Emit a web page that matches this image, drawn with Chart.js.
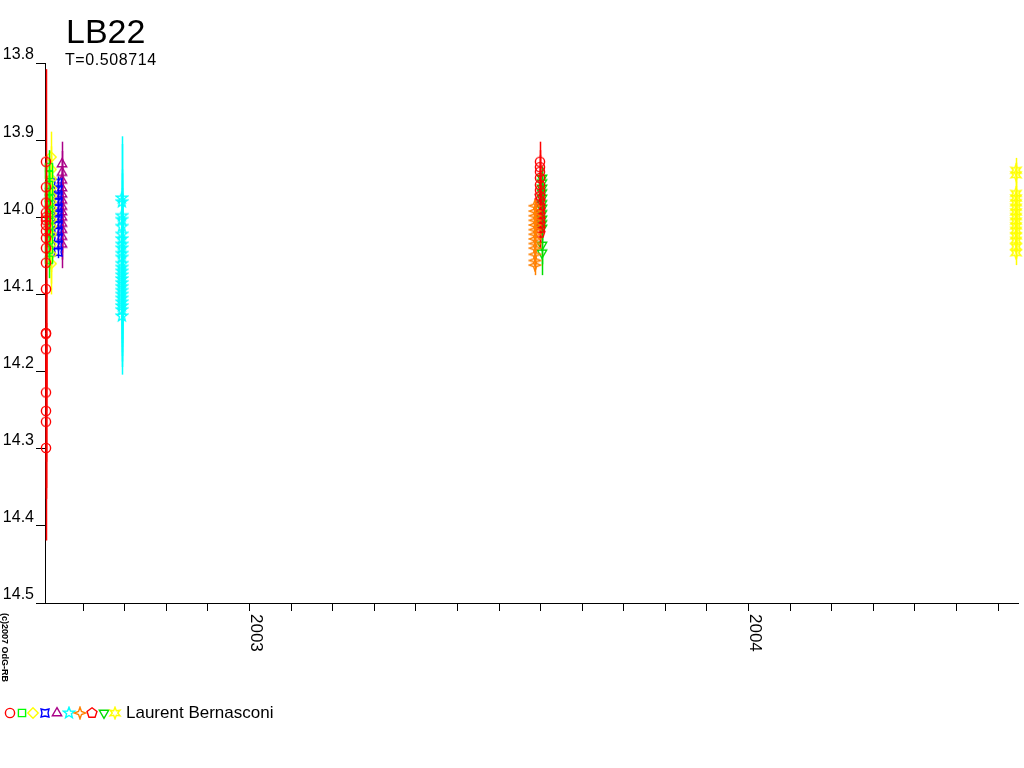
<!DOCTYPE html>
<html><head><meta charset="utf-8">
<script src="https://cdn.jsdelivr.net/npm/chart.js@4"></script>
<style>html,body{margin:0;padding:0;background:#fff}#wrap{width:1024px;height:768px;position:relative}</style>
</head><body><div id="wrap"><canvas id="c" width="1024" height="768"></canvas></div>
<script>
// ---- texts ----
const starName = 'LB22';
const periodText = 'T=0.508714';
const observerName = 'Laurent Bernasconi';
const copyrightText = '(c)2007 OdG-RB';

// ---- axes ----
const yTickValues = [13.8, 13.9, 14.0, 14.1, 14.2, 14.3, 14.4, 14.5];
const xMin = 2002.59, xMax = 2004.54;
const tickMonths = ['2002-09','2002-10','2002-11','2002-12','2003-01','2003-02','2003-03','2003-04','2003-05','2003-06','2003-07','2003-08','2003-09','2003-10','2003-11','2003-12','2004-01','2004-02','2004-03','2004-04','2004-05','2004-06','2004-07'];
const yearLabels = ['2003', '2004'];

// ---- data (date in decimal years, magnitude, error) ----
const circleDate1 = 2002.592;
const circleMag1 = [13.928, 13.961, 13.981, 13.994, 14.000, 14.004, 14.010, 14.018, 14.027, 14.040, 14.059, 14.093, 14.150, 14.151, 14.171, 14.227, 14.251, 14.265, 14.299];
const circleErr1 = [0.120, 0.040, 0.035, 0.030, 0.030, 0.030, 0.030, 0.035, 0.035, 0.040, 0.045, 0.050, 0.070, 0.070, 0.080, 0.090, 0.100, 0.100, 0.120];
const circleDate2 = 2003.582;
const circleMag2 = [13.928, 13.935, 13.941, 13.949, 13.958, 13.965];
const circleErr2 = [0.026, 0.022, 0.022, 0.020, 0.020, 0.020];

const squareDate = 2002.598;
const squareMag = [13.935, 13.945, 13.958, 13.967, 13.975, 13.983, 13.990, 13.997, 14.004, 14.012, 14.020, 14.030, 14.042, 14.055];
const squareErr = [0.022, 0.020, 0.020, 0.020, 0.020, 0.020, 0.020, 0.020, 0.020, 0.020, 0.022, 0.022, 0.024, 0.024];

const diamondDate = 2002.602;
const diamondMag = [13.922, 13.938, 13.950, 13.962, 13.972, 13.980, 13.988, 13.995, 14.003, 14.012, 14.022, 14.035, 14.048, 14.060];
const diamondErr = [0.033, 0.030, 0.030, 0.030, 0.030, 0.030, 0.030, 0.030, 0.032, 0.032, 0.034, 0.036, 0.038, 0.040];

const crossDate = 2002.616;
const crossMag = [13.955, 13.965, 13.972, 13.980, 13.988, 13.995, 14.002, 14.010, 14.018, 14.027, 14.036, 14.045];
const crossErr = [0.008, 0.008, 0.008, 0.008, 0.008, 0.008, 0.008, 0.008, 0.008, 0.008, 0.008, 0.008];

const triDate = 2002.624;
const triMag = [13.931, 13.942, 13.952, 13.962, 13.970, 13.978, 13.986, 13.993, 14.000, 14.008, 14.016, 14.025, 14.035];
const triErr = [0.029, 0.028, 0.028, 0.028, 0.028, 0.028, 0.028, 0.028, 0.030, 0.030, 0.030, 0.030, 0.031];

const starDate = 2002.744;
const starMag = [13.975, 13.980, 13.998, 14.003, 14.012, 14.022, 14.028, 14.035, 14.040, 14.047, 14.052, 14.060, 14.065, 14.070, 14.075, 14.080, 14.085, 14.090, 14.095, 14.100, 14.105, 14.110, 14.115, 14.120, 14.128];
const starErr = [0.080, 0.075, 0.060, 0.060, 0.060, 0.060, 0.060, 0.060, 0.060, 0.062, 0.062, 0.064, 0.064, 0.064, 0.066, 0.066, 0.066, 0.068, 0.068, 0.068, 0.070, 0.070, 0.072, 0.074, 0.076];

const sparkDate = 2003.572;
const sparkMag = [13.985, 13.992, 13.998, 14.004, 14.010, 14.016, 14.022, 14.028, 14.034, 14.040, 14.048, 14.056, 14.062];
const sparkErr = [0.005, 0.010, 0.010, 0.010, 0.010, 0.010, 0.010, 0.010, 0.010, 0.010, 0.012, 0.012, 0.013];

const pentDate = 2003.582;
const pentMag = [13.972, 13.978, 13.985, 13.990, 13.996, 14.002, 14.008, 14.014, 14.020];
const pentErr = [0.020, 0.020, 0.020, 0.020, 0.020, 0.020, 0.020, 0.020, 0.020];

const invTriDate = 2003.586;
const invTriMag = [13.949, 13.955, 13.962, 13.968, 13.975, 13.982, 13.988, 13.995, 14.002, 14.008, 14.014, 14.036, 14.046];
const invTriErr = [0.015, 0.015, 0.015, 0.015, 0.015, 0.015, 0.015, 0.015, 0.015, 0.015, 0.016, 0.025, 0.029];

const star6Date = 2004.536;
const star6Mag = [13.939, 13.945, 13.969, 13.975, 13.981, 13.987, 13.993, 13.999, 14.005, 14.011, 14.017, 14.024, 14.030, 14.038, 14.046];
const star6Err = [0.016, 0.016, 0.015, 0.015, 0.015, 0.015, 0.015, 0.015, 0.015, 0.015, 0.015, 0.015, 0.015, 0.016, 0.016];

// ---- marker shapes ----
const SZ = 14;
function makeShape(color, pathFn) {
  const c = document.createElement('canvas'); c.width = SZ; c.height = SZ;
  const g = c.getContext('2d');
  g.strokeStyle = color; g.lineWidth = 1.4;
  g.translate(SZ / 2, SZ / 2);
  g.beginPath(); pathFn(g); g.closePath(); g.stroke();
  return c;
}
function polyPath(n, r, rot) {
  return g => { for (let i = 0; i < n; i++) { const a = rot + i * 2 * Math.PI / n; const px = r * Math.sin(a), py = -r * Math.cos(a); i ? g.lineTo(px, py) : g.moveTo(px, py); } };
}
function starPath(n, ro, ri, rot) {
  return g => { for (let i = 0; i < 2 * n; i++) { const r = i % 2 ? ri : ro; const a = rot + i * Math.PI / n; const px = r * Math.sin(a), py = -r * Math.cos(a); i ? g.lineTo(px, py) : g.moveTo(px, py); } };
}
const shapes = {
  circle: makeShape('#FF0000', g => g.arc(0, 0, 4.6, 0, Math.PI * 2)),
  square: makeShape('#00FF00', g => g.rect(-3.6, -3.6, 7.2, 7.2)),
  diamond: makeShape('#FFFF00', polyPath(4, 5.2, 0)),
  cross: makeShape('#0000FF', starPath(4, 5.6, 3, Math.PI / 4)),
  tri: makeShape('#AA0088', polyPath(3, 5.4, 0)),
  star: makeShape('#00FFFF', starPath(5, 5.8, 2.5, 0)),
  spark: makeShape('#FF8000', starPath(4, 5.8, 2.1, 0)),
  pent: makeShape('#FF0000', polyPath(5, 5.2, 0)),
  invTri: makeShape('#00DD00', polyPath(3, 5.4, Math.PI)),
  star6: makeShape('#FFFF00', starPath(6, 5.8, 2.7, 0))
};

function pts(date, mags, errs) { return mags.map((m, i) => ({ x: date, y: m, e: errs[i] })); }
function ds(label, data, color, shape) {
  return { label, data, borderColor: color, backgroundColor: 'transparent', pointStyle: shapes[shape], legendShape: shape, pointRadius: 5, pointHoverRadius: 5, clip: false, showLine: false, errColor: color };
}

const datasets = [
  ds('circle', pts(circleDate1, circleMag1, circleErr1).concat(pts(circleDate2, circleMag2, circleErr2)), '#FF0000', 'circle'),
  ds('square', pts(squareDate, squareMag, squareErr), '#00FF00', 'square'),
  ds('diamond', pts(diamondDate, diamondMag, diamondErr), '#FFFF00', 'diamond'),
  ds('cross', pts(crossDate, crossMag, crossErr), '#0000FF', 'cross'),
  ds('triangle', pts(triDate, triMag, triErr), '#AA0088', 'tri'),
  ds('star', pts(starDate, starMag, starErr), '#00FFFF', 'star'),
  ds('spark', pts(sparkDate, sparkMag, sparkErr), '#FF8000', 'spark'),
  ds('pentagon', pts(pentDate, pentMag, pentErr), '#FF0000', 'pent'),
  ds('invTriangle', pts(invTriDate, invTriMag, invTriErr), '#00DD00', 'invTri'),
  ds('star6', pts(star6Date, star6Mag, star6Err), '#FFFF00', 'star6')
];

const FONT = '"Liberation Sans", Arial, sans-serif';

const errorBars = {
  id: 'errorBars',
  beforeDatasetDraw(chart, args) {
    const ds = chart.data.datasets[args.index];
    const xs = chart.scales.x, ys = chart.scales.y, ctx = chart.ctx;
    ctx.save();
    ctx.strokeStyle = ds.errColor; ctx.lineWidth = 1.5;
    ds.data.forEach(p => {
      const px = Math.round(xs.getPixelForValue(p.x)) + 0.5;
      ctx.beginPath();
      ctx.moveTo(px, ys.getPixelForValue(p.y - p.e));
      ctx.lineTo(px, ys.getPixelForValue(p.y + p.e));
      ctx.stroke();
    });
    ctx.restore();
  }
};

const decorations = {
  id: 'decorations',
  afterDraw(chart) {
    const ctx = chart.ctx, xs = chart.scales.x;
    ctx.save();
    ctx.fillStyle = '#000';
    ctx.textAlign = 'left';
    ctx.textBaseline = 'alphabetic';
    ctx.font = '34px ' + FONT;
    ctx.fillText(starName, 66, 43);
    ctx.font = '16px ' + FONT;
    ctx.letterSpacing = '0.6px';
    ctx.fillText(periodText, 65, 65);
    ctx.letterSpacing = '0px';
    // year labels, rotated clockwise
    ctx.font = '17px ' + FONT;
    yearLabels.forEach(lbl => {
      const px = xs.getPixelForValue(parseFloat(lbl));
      ctx.save();
      ctx.translate(px + 1, 614);
      ctx.rotate(Math.PI / 2);
      ctx.fillText(lbl, 0, 0);
      ctx.restore();
    });
    // copyright
    ctx.save();
    ctx.font = 'bold 9px ' + FONT;
    ctx.translate(1.5, 613);
    ctx.rotate(Math.PI / 2);
    ctx.fillText(copyrightText, 0, 0);
    ctx.restore();
    // legend symbols
    let lx = 10;
    chart.data.datasets.forEach(d => {
      const img = shapes[d.legendShape];
      ctx.drawImage(img, Math.round(lx - SZ / 2), Math.round(713 - SZ / 2));
      lx += 11.7;
    });
    ctx.font = '17px ' + FONT;
    ctx.fillText(observerName, 126, 718);
    ctx.restore();
  }
};

const tickValues = tickMonths.map(s => { const [y, m] = s.split('-').map(Number); return y + (m - 1) / 12; });

new Chart(document.getElementById('c'), {
  type: 'scatter',
  data: { datasets },
  options: {
    responsive: false,
    animation: false,
    devicePixelRatio: 1,
    layout: { padding: { top: 63, right: 4, left: 0, bottom: 0 } },
    plugins: { legend: { display: false }, tooltip: { enabled: false } },
    scales: {
      x: {
        type: 'linear', min: xMin, max: xMax,
        afterBuildTicks: s => { s.ticks = tickValues.map(v => ({ value: v })); },
        ticks: { callback: () => '', autoSkip: false, maxRotation: 0 },
        grid: { drawOnChartArea: false, drawTicks: true, tickLength: 8, color: '#000', lineWidth: 1 },
        border: { display: true, color: '#000', width: 1 },
        afterFit: s => { s.height = 165; }
      },
      y: {
        type: 'linear', reverse: true, min: 13.8, max: 14.5,
        afterBuildTicks: s => { s.ticks = yTickValues.map(v => ({ value: v })); },
        ticks: { callback: v => Number(v).toFixed(1), color: '#000', font: { family: FONT, size: 16 }, padding: 2, labelOffset: -8, autoSkip: false },
        grid: { drawOnChartArea: false, drawTicks: true, tickLength: 9, color: '#000', lineWidth: 1 },
        border: { display: true, color: '#000', width: 1 },
        afterFit: s => { s.width = 45; }
      }
    }
  },
  plugins: [errorBars, decorations]
});
</script>
</body></html>
